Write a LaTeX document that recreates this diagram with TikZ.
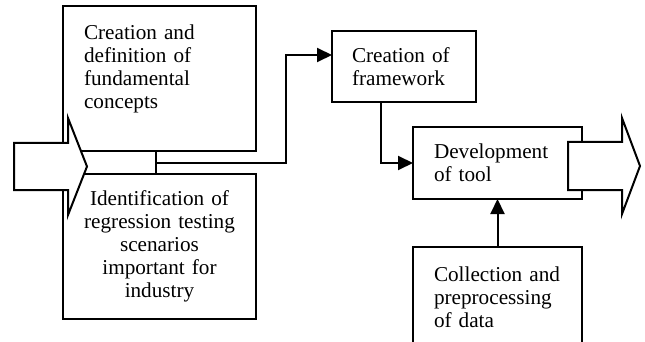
\documentclass[tikz,border=0pt]{standalone}
\usepackage{fontspec}
\setmainfont{Liberation Serif}
\usetikzlibrary{arrows.meta, positioning}

\begin{document}
\begin{tikzpicture}[
  x=1pt, y=-1pt,
  box/.style={draw, line width=2pt, fill=white, outer sep=0pt, anchor=north west, inner xsep=21pt, font=\fontsize{21.2}{23}\selectfont},
  lbox/.style={box, align=left},
  cbox/.style={box, align=center},
  conn/.style={line width=2pt, -{Triangle[length=15pt, width=14pt]}},
  fatarrow/.style={draw, line width=2pt, fill=white, line join=miter}
]
  \useasboundingbox (0,0) rectangle (645,342);

  % left column
  \node[lbox, text width=151pt, minimum width=193pt, minimum height=145pt] (concepts) at (63,6) {Creation and\\definition of\\fundamental\\concepts\\\mbox{}};
  \node[cbox, text width=151pt, minimum width=193pt, minimum height=145pt] (scenarios) at (63,174) {Identification of\\regression testing\\scenarios\\important for\\industry};
  \node[box, inner sep=0pt, minimum width=93pt, minimum height=23pt] (join) at (63,151) {};

  % input arrow
  \draw[fatarrow] (14,143) -- (68,143) -- (68,118) -- (87,166.5) -- (68,215) -- (68,190) -- (14,190) -- cycle;

  % right column
  \node[lbox, text width=104pt, inner xsep=20pt, minimum width=144pt, minimum height=71pt] (frame) at (332,31) {Creation of\\framework};
  \node[lbox, text width=127pt, minimum width=169pt, minimum height=72pt] (tool) at (413,127) {Development\\of tool};
  \node[lbox, text width=127pt, minimum width=169pt, minimum height=100pt] (data) at (413,247) {Collection and\\preprocessing\\of data};

  % output arrow
  \draw[fatarrow] (568,142) -- (622,142) -- (622,118) -- (640,166) -- (622,214) -- (622,190) -- (568,190) -- cycle;

  \draw[conn] (join.east) -- ++(130,0) |- ([yshift=11.5pt]frame.west);
  \draw[conn] ([xshift=-23pt]frame.south) |- (tool.west);
  \draw[conn] (data.north) -- (tool.south);
\end{tikzpicture}
\end{document}
